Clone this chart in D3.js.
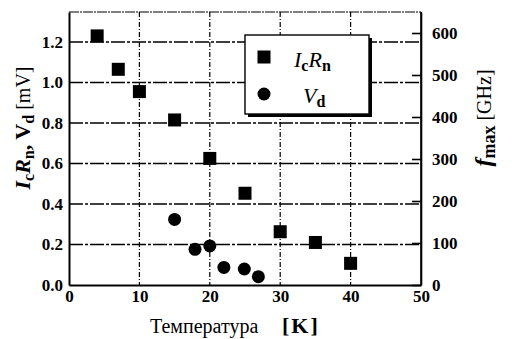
<!DOCTYPE html>
<html>
<head>
<meta charset="utf-8">
<script src="https://cdn.jsdelivr.net/npm/d3@7"></script>
<style>
  html, body { margin: 0; padding: 0; background: #fff; }
  svg, svg text { font-family: "Liberation Serif", "Times New Roman", serif !important; }
</style>
</head>
<body>
<svg id="chart" width="512" height="339"></svg>
<script>
// Temperature (K) and measured values
const icrnTemp = [4, 7, 10, 15, 20, 25, 30, 35, 40];
const icrnVals = [1.23, 1.065, 0.955, 0.815, 0.625, 0.453, 0.263, 0.21, 0.107];
const vdTemp = [15, 17.9, 20, 22, 24.9, 26.9];
const vdVals = [0.324, 0.176, 0.193, 0.087, 0.079, 0.041];

const xTicks = [0, 10, 20, 30, 40, 50];
const yTicks = [0, 0.2, 0.4, 0.6, 0.8, 1.0, 1.2];
const y2Ticks = [0, 100, 200, 300, 400, 500, 600];

const svg = d3.select("#chart");
const m = { left: 69, right: 421, top: 12, bottom: 285 };

const x = d3.scaleLinear().domain([0, 50]).range([m.left, m.right]);
const y = d3.scaleLinear().domain([0, 1.348]).range([m.bottom, m.top]);
const y2 = d3.scaleLinear().domain([0, 650]).range([m.bottom, m.top]);

// grid lines
const grid = svg.append("g").attr("stroke", "#000").attr("fill", "none");
grid.selectAll("line.h").data(yTicks.filter(d => d > 0)).join("line")
  .attr("x1", m.left).attr("x2", m.right)
  .attr("y1", d => y(d)).attr("y2", d => y(d))
  .attr("stroke-width", 1.6)
  .attr("stroke-dasharray", "14,2,3,2");
grid.selectAll("line.v").data(xTicks.filter(d => d > 0 && d < 50)).join("line")
  .attr("y1", m.top).attr("y2", m.bottom)
  .attr("x1", d => x(d)).attr("x2", d => x(d))
  .attr("stroke-width", 1.2)
  .attr("stroke-dasharray", "5,2,1,2");

// frame
svg.append("line").attr("x1", m.left).attr("x2", m.right).attr("y1", m.top).attr("y2", m.top)
  .attr("stroke", "#000").attr("stroke-width", 1.2).attr("stroke-dasharray", "10,1,2,1");
svg.append("line").attr("x1", m.right).attr("x2", m.right).attr("y1", m.top).attr("y2", m.bottom)
  .attr("stroke", "#000").attr("stroke-width", 1.6);

// axes
const axL = d3.axisLeft(y).tickValues(yTicks).tickFormat(d3.format(".1f")).tickSize(0).tickPadding(6);
const axB = d3.axisBottom(x).tickValues(xTicks).tickFormat(d3.format("d")).tickSize(0).tickPadding(5);
const axR = d3.axisRight(y2).tickValues(y2Ticks).tickFormat(d3.format("d")).tickSizeInner(-9).tickSizeOuter(0).tickPadding(20);

function styleAxis(g) {
  g.attr("font-family", null);
  g.selectAll("text").attr("font-weight", "bold")
    .attr("font-size", 17).attr("fill", "#000");
  g.selectAll("path.domain").attr("stroke", "#000").attr("stroke-width", 2);
  g.selectAll("line").attr("stroke", "#000").attr("stroke-width", 1.6);
}
svg.append("g").attr("transform", `translate(${m.left},0)`).call(axL).call(styleAxis);
svg.append("g").attr("transform", `translate(0,${m.bottom})`).call(axB).call(styleAxis);
const gr = svg.append("g").attr("transform", `translate(${m.right},0)`).call(axR).call(styleAxis);
gr.selectAll("path.domain").attr("stroke-width", 1.6);
gr.selectAll("text").attr("text-anchor", "start").attr("x", 11);

// markers
const sq = 13;
svg.append("g").selectAll("rect").data(icrnTemp).join("rect")
  .attr("x", (d, i) => x(d) - sq / 2).attr("y", (d, i) => y(icrnVals[i]) - sq / 2)
  .attr("width", sq).attr("height", sq).attr("fill", "#000");
svg.append("g").selectAll("circle").data(vdTemp).join("circle")
  .attr("cx", d => x(d)).attr("cy", (d, i) => y(vdVals[i]))
  .attr("r", 6.5).attr("fill", "#000");

// legend
const lg = svg.append("g");
lg.append("rect").attr("x", 248).attr("y", 38).attr("width", 124).attr("height", 79).attr("fill", "#000");
lg.append("rect").attr("x", 245).attr("y", 35).attr("width", 124).attr("height", 79)
  .attr("fill", "#fff").attr("stroke", "#000").attr("stroke-width", 1.4);
lg.append("rect").attr("x", 264 - 6.5).attr("y", 57 - 6.5).attr("width", sq).attr("height", sq).attr("fill", "#000");
lg.append("circle").attr("cx", 264).attr("cy", 94).attr("r", 6.5).attr("fill", "#000");

const t1 = lg.append("text").attr("x", 294).attr("y", 67).attr("font-size", 22).attr("fill", "#000");
t1.append("tspan").attr("font-style", "italic").text("I");
t1.append("tspan").attr("font-size", 16).attr("font-weight", "bold").attr("dy", 4).text("c");
t1.append("tspan").attr("font-style", "italic").attr("dy", -4).text("R");
t1.append("tspan").attr("font-size", 16).attr("font-weight", "bold").attr("dy", 4).text("n");

const t2 = lg.append("text").attr("x", 303).attr("y", 103).attr("font-size", 22).attr("fill", "#000");
t2.append("tspan").attr("font-style", "italic").text("V");
t2.append("tspan").attr("font-size", 16).attr("font-weight", "bold").attr("dy", 4).text("d");

// left title
const lt = svg.append("text").attr("transform", "translate(30,128) rotate(-90)")
  .attr("text-anchor", "middle").attr("font-size", 22).attr("fill", "#000");
lt.append("tspan").attr("font-style", "italic").attr("font-weight", "bold").text("I");
lt.append("tspan").attr("font-size", 16).attr("font-weight", "bold").attr("dy", 4).text("c");
lt.append("tspan").attr("font-style", "italic").attr("font-weight", "bold").attr("dy", -4).text("R");
lt.append("tspan").attr("font-size", 16).attr("font-weight", "bold").attr("dy", 4).text("n");
lt.append("tspan").attr("font-weight", "bold").attr("dy", -4).text(", V");
lt.append("tspan").attr("font-size", 16).attr("font-weight", "bold").attr("dy", 4).text("d");
lt.append("tspan").attr("dy", -4).attr("font-size", 20).text(" [mV]");

// right title
const rt = svg.append("text").attr("transform", "translate(491,118) rotate(-90)")
  .attr("text-anchor", "middle").attr("font-size", 24).attr("fill", "#000");
rt.append("tspan").attr("font-style", "italic").attr("font-weight", "bold").text("f");
rt.append("tspan").attr("font-size", 18).attr("font-weight", "bold").attr("dy", 4).text("max");
rt.append("tspan").attr("dy", -4).attr("font-size", 20).text(" [GHz]");

// bottom title
svg.append("text").attr("x", 150).attr("y", 333).attr("font-size", 20).attr("fill", "#000").text("Температура");
svg.append("text").attr("x", 282).attr("y", 333).attr("font-size", 22).attr("letter-spacing", 2)
  .attr("font-weight", "bold").attr("fill", "#000").text("[K]");
</script>
</body>
</html>
